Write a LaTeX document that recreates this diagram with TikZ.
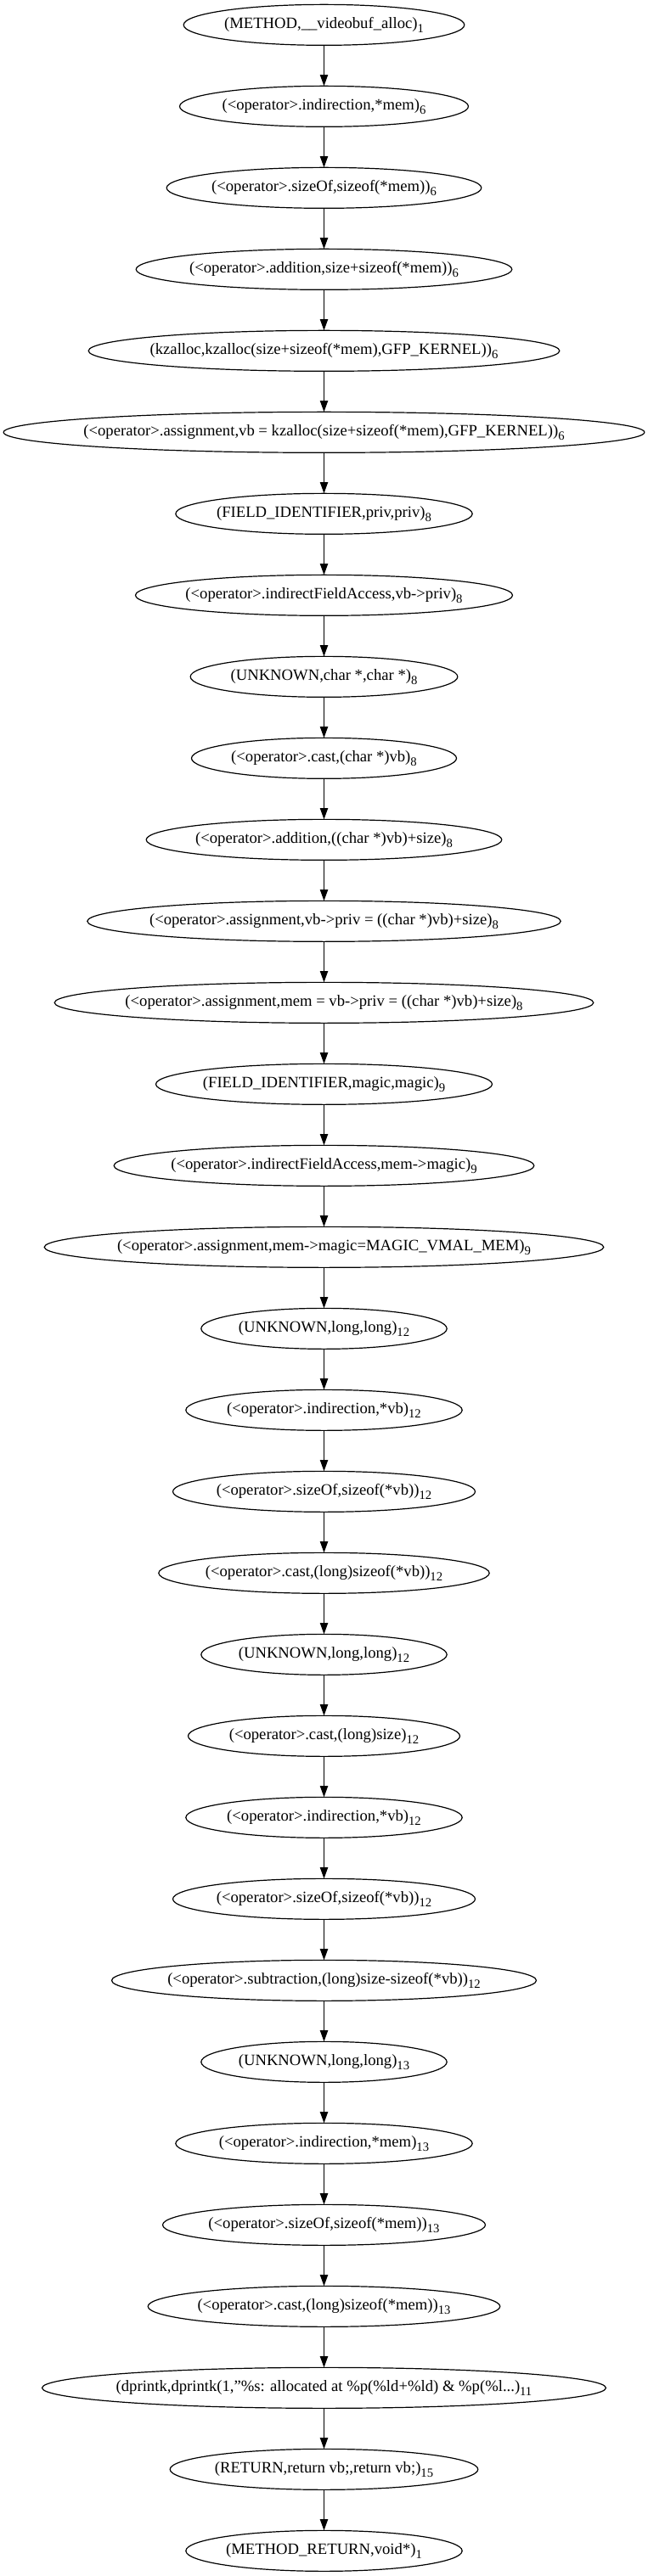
\documentclass[tikz,border=0pt]{standalone}
\usepackage{fontspec}
\setmainfont{Liberation Serif}
\usetikzlibrary{arrows.meta,positioning,shapes.geometric}

% label text with its line number as a subscript; the ellipse keeps its own width
\newcommand{\cpglbl}[2]{\makebox[0pt]{#1\raisebox{-4pt}{\fontsize{11pt}{12pt}\selectfont #2}}}

\tikzset{
  cpg/.style={draw, ellipse, line width=0.9pt, inner sep=0pt, outer sep=0pt,
              minimum height=36pt, font=\fontsize{14pt}{16pt}\selectfont},
  edge/.style={-{Triangle[length=10pt,width=7pt]}, line width=0.9pt},
}

\begin{document}
\begin{tikzpicture}[node distance=36pt]
\useasboundingbox (0,0) rectangle (572.25pt,-2276.25pt);

%% ---- allocation (line 6) ----
\node[cpg, minimum width=248pt] at (286.125pt,-22pt) (v1) {\cpglbl{(METHOD,\_\_videobuf\_alloc)}{1}};
\node[cpg, minimum width=255pt, below=of v1]  (v2)  {\cpglbl{(<operator>.indirection,*mem)}{6}};
\node[cpg, minimum width=278pt, below=of v2]  (v3)  {\cpglbl{(<operator>.sizeOf,sizeof(*mem))}{6}};
\node[cpg, minimum width=332pt, below=of v3]  (v4)  {\cpglbl{(<operator>.addition,size+sizeof(*mem))}{6}};
\node[cpg, minimum width=416pt, below=of v4]  (v5)  {\cpglbl{(kzalloc,kzalloc(size+sizeof(*mem),GFP\_KERNEL))}{6}};
\node[cpg, minimum width=566pt, below=of v5]  (v6)  {\cpglbl{(<operator>.assignment,vb = kzalloc(size+sizeof(*mem),GFP\_KERNEL))}{6}};

%% ---- priv pointer (line 8) ----
\node[cpg, minimum width=262pt, below=of v6]  (v7)  {\cpglbl{(FIELD\_IDENTIFIER,priv,priv)}{8}};
\node[cpg, minimum width=333pt, below=of v7]  (v8)  {\cpglbl{(<operator>.indirectFieldAccess,vb->priv)}{8}};
\node[cpg, minimum width=236pt, below=of v8]  (v9)  {\cpglbl{(UNKNOWN,char *,char *)}{8}};
\node[cpg, minimum width=234pt, below=of v9]  (v10) {\cpglbl{(<operator>.cast,(char *)vb)}{8}};
\node[cpg, minimum width=314pt, below=of v10] (v11) {\cpglbl{(<operator>.addition,((char *)vb)+size)}{8}};
\node[cpg, minimum width=418pt, below=of v11] (v12) {\cpglbl{(<operator>.assignment,vb->priv = ((char *)vb)+size)}{8}};
\node[cpg, minimum width=476pt, below=of v12] (v13) {\cpglbl{(<operator>.assignment,mem = vb->priv = ((char *)vb)+size)}{8}};

%% ---- magic (line 9) ----
\node[cpg, minimum width=297pt, below=of v13] (v14) {\cpglbl{(FIELD\_IDENTIFIER,magic,magic)}{9}};
\node[cpg, minimum width=371pt, below=of v14] (v15) {\cpglbl{(<operator>.indirectFieldAccess,mem->magic)}{9}};
\node[cpg, minimum width=494pt, below=of v15] (v16) {\cpglbl{(<operator>.assignment,mem->magic=MAGIC\_VMAL\_MEM)}{9}};

%% ---- dprintk arguments (lines 12, 13) ----
\node[cpg, minimum width=217pt, below=of v16] (v17) {\cpglbl{(UNKNOWN,long,long)}{12}};
\node[cpg, minimum width=244pt, below=of v17] (v18) {\cpglbl{(<operator>.indirection,*vb)}{12}};
\node[cpg, minimum width=267pt, below=of v18] (v19) {\cpglbl{(<operator>.sizeOf,sizeof(*vb))}{12}};
\node[cpg, minimum width=292pt, below=of v19] (v20) {\cpglbl{(<operator>.cast,(long)sizeof(*vb))}{12}};
\node[cpg, minimum width=217pt, below=of v20] (v21) {\cpglbl{(UNKNOWN,long,long)}{12}};
\node[cpg, minimum width=240pt, below=of v21] (v22) {\cpglbl{(<operator>.cast,(long)size)}{12}};
\node[cpg, minimum width=244pt, below=of v22] (v23) {\cpglbl{(<operator>.indirection,*vb)}{12}};
\node[cpg, minimum width=267pt, below=of v23] (v24) {\cpglbl{(<operator>.sizeOf,sizeof(*vb))}{12}};
\node[cpg, minimum width=375pt, below=of v24] (v25) {\cpglbl{(<operator>.subtraction,(long)size-sizeof(*vb))}{12}};
\node[cpg, minimum width=217pt, below=of v25] (v26) {\cpglbl{(UNKNOWN,long,long)}{13}};
\node[cpg, minimum width=262pt, below=of v26] (v27) {\cpglbl{(<operator>.indirection,*mem)}{13}};
\node[cpg, minimum width=285pt, below=of v27] (v28) {\cpglbl{(<operator>.sizeOf,sizeof(*mem))}{13}};
\node[cpg, minimum width=311pt, below=of v28] (v29) {\cpglbl{(<operator>.cast,(long)sizeof(*mem))}{13}};

%% ---- call and return ----
\node[cpg, minimum width=498pt, below=of v29] (v30) {\cpglbl{(dprintk,dprintk(1,"\%s: allocated at \%p(\%ld+\%ld) \& \%p(\%l...)}{11}};
\node[cpg, minimum width=272pt, below=of v30] (v31) {\cpglbl{(RETURN,return vb;,return vb;)}{15}};
\node[cpg, minimum width=244pt, below=of v31] (v32) {\cpglbl{(METHOD\_RETURN,void*)}{1}};

%% ---- control flow ----
\foreach \i [evaluate=\i as \j using int(\i+1)] in {1,...,31}
  \draw[edge] (v\i) -- (v\j);

\end{tikzpicture}
\end{document}
